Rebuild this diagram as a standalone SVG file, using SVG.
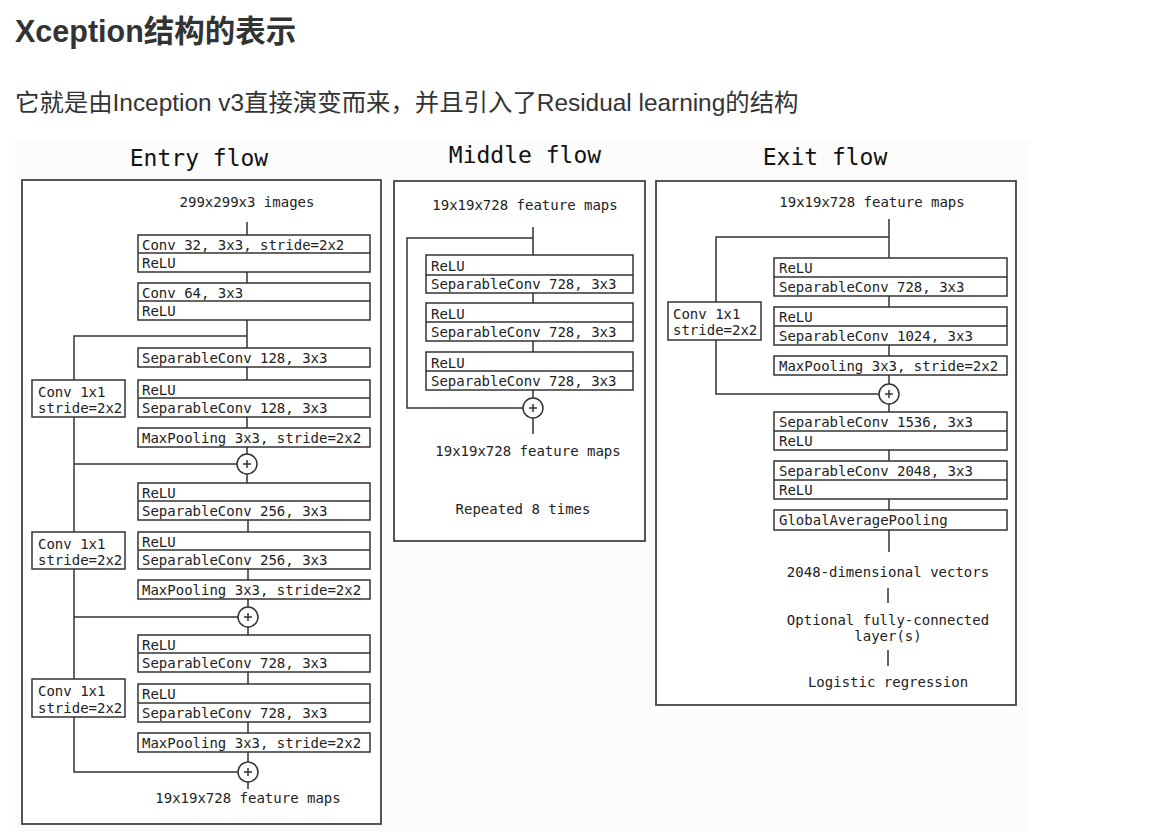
<svg xmlns="http://www.w3.org/2000/svg" width="1166" height="832" viewBox="0 0 1166 832">
<style>
.bg{fill:#fcfcfc}
.p{fill:#fff;stroke:#444;stroke-width:1.8}
.b{fill:#fff;stroke:#333;stroke-width:1.5}
.d{stroke:#333;stroke-width:1.3}
.l{stroke:#333;stroke-width:1.5;fill:none}
.c{fill:#fff;stroke:#333;stroke-width:1.5}
.t{font-family:"DejaVu Sans Mono","Liberation Mono",monospace;font-size:14px;fill:#222}
.m{text-anchor:middle}
.h{font-family:"DejaVu Sans Mono","Liberation Mono",monospace;font-size:23px;fill:#111;text-anchor:middle}
.ti{font-family:"Liberation Sans","Noto Sans CJK SC",sans-serif;font-weight:bold;font-size:30.5px;fill:#333}
.st{font-family:"Liberation Sans","Noto Sans CJK SC",sans-serif;font-size:24.4px;fill:#333}
</style>
<text class="ti" x="15" y="42">Xception结构的表示</text>
<text class="st" x="15" y="111">它就是由Inception v3直接演变而来，并且引入了Residual learning的结构</text>
<rect class="bg" x="15" y="140" width="1015" height="692"/>

<g id="entry-flow">
<text class="h" x="199" y="166">Entry flow</text>
<rect class="p" x="22" y="180" width="359" height="644"/>
</g>
<g id="middle-flow">
<text class="h" x="525" y="163">Middle flow</text>
<rect class="p" x="394" y="181" width="251" height="360"/>
</g>
<g id="exit-flow">
<text class="h" x="825" y="165">Exit flow</text>
<rect class="p" x="656" y="181" width="360" height="524"/>
</g>

<g id="connectors">
<path class="l" d="M247 222V235M247 272V283M247 320V348M247 336H74V380M247 367V380M247 417V428M247 447V454M74 417V532M74 464H237M247 474V483"/>
<path class="l" d="M248 520V532M248 569V580M248 599V607M74 569V679M74 617H238M248 627V635M248 672V684M248 722V733M248 752V762M74 717V772H238M248 782V789"/>
<path class="l" d="M533 227V255M533 238H407V408H523M533 293V303M533 341V352M533 390V398M533 418V434"/>
<path class="l" d="M889 219V258M889 237H716V302M716 340V394H879M889 296V307M889 345V356M889 375V384M889 404V412M889 450V461M889 499V510M889 530V552M888 588V603M888 650V666"/>
</g>

<g id="e-input"><text class="t m" x="247" y="207">299x299x3 images</text></g>
<g id="e-conv32"><rect class="b" x="138" y="235" width="232" height="37"/><line class="d" x1="138" y1="253" x2="370" y2="253"/><text class="t" x="142" y="250">Conv 32, 3x3, stride=2x2</text><text class="t" x="142" y="268">ReLU</text></g>
<g id="e-conv64"><rect class="b" x="138" y="283" width="232" height="37"/><line class="d" x1="138" y1="301" x2="370" y2="301"/><text class="t" x="142" y="298">Conv 64, 3x3</text><text class="t" x="142" y="316">ReLU</text></g>
<g id="e-sep128a"><rect class="b" x="138" y="348" width="232" height="19"/><text class="t" x="142" y="363">SeparableConv 128, 3x3</text></g>
<g id="e-sep128b"><rect class="b" x="138" y="380" width="232" height="37"/><line class="d" x1="138" y1="398" x2="370" y2="398"/><text class="t" x="142" y="395">ReLU</text><text class="t" x="142" y="413">SeparableConv 128, 3x3</text></g>
<g id="e-pool1"><rect class="b" x="138" y="428" width="232" height="19"/><text class="t" x="142" y="443">MaxPooling 3x3, stride=2x2</text></g>
<g id="e-skip1"><rect class="b" x="32" y="380" width="93" height="37"/><text class="t" x="38" y="397">Conv 1x1</text><text class="t" x="38" y="413">stride=2x2</text></g>
<g id="e-add1"><circle class="c" cx="247" cy="464" r="10"/><path class="l" d="M243 464H251M247 460V468"/></g>
<g id="e-sep256a"><rect class="b" x="138" y="483" width="232" height="37"/><line class="d" x1="138" y1="501" x2="370" y2="501"/><text class="t" x="142" y="498">ReLU</text><text class="t" x="142" y="516">SeparableConv 256, 3x3</text></g>
<g id="e-sep256b"><rect class="b" x="138" y="532" width="232" height="37"/><line class="d" x1="138" y1="550" x2="370" y2="550"/><text class="t" x="142" y="547">ReLU</text><text class="t" x="142" y="565">SeparableConv 256, 3x3</text></g>
<g id="e-pool2"><rect class="b" x="138" y="580" width="232" height="19"/><text class="t" x="142" y="595">MaxPooling 3x3, stride=2x2</text></g>
<g id="e-skip2"><rect class="b" x="32" y="532" width="93" height="37"/><text class="t" x="38" y="549">Conv 1x1</text><text class="t" x="38" y="565">stride=2x2</text></g>
<g id="e-add2"><circle class="c" cx="248" cy="617" r="10"/><path class="l" d="M244 617H252M248 613V621"/></g>
<g id="e-sep728a"><rect class="b" x="138" y="635" width="232" height="37"/><line class="d" x1="138" y1="653" x2="370" y2="653"/><text class="t" x="142" y="650">ReLU</text><text class="t" x="142" y="668">SeparableConv 728, 3x3</text></g>
<g id="e-sep728b"><rect class="b" x="138" y="684" width="232" height="38"/><line class="d" x1="138" y1="703" x2="370" y2="703"/><text class="t" x="142" y="699">ReLU</text><text class="t" x="142" y="718">SeparableConv 728, 3x3</text></g>
<g id="e-pool3"><rect class="b" x="138" y="733" width="232" height="19"/><text class="t" x="142" y="748">MaxPooling 3x3, stride=2x2</text></g>
<g id="e-skip3"><rect class="b" x="32" y="679" width="93" height="38"/><text class="t" x="38" y="696">Conv 1x1</text><text class="t" x="38" y="713">stride=2x2</text></g>
<g id="e-add3"><circle class="c" cx="248" cy="772" r="10"/><path class="l" d="M244 772H252M248 768V776"/></g>
<g id="e-output"><text class="t m" x="248" y="803">19x19x728 feature maps</text></g>

<g id="m-input"><text class="t m" x="525" y="210">19x19x728 feature maps</text></g>
<g id="m-sep1"><rect class="b" x="426" y="255" width="207" height="38"/><line class="d" x1="426" y1="275" x2="633" y2="275"/><text class="t" x="431" y="271">ReLU</text><text class="t" x="431" y="289">SeparableConv 728, 3x3</text></g>
<g id="m-sep2"><rect class="b" x="426" y="303" width="207" height="38"/><line class="d" x1="426" y1="322" x2="633" y2="322"/><text class="t" x="431" y="319">ReLU</text><text class="t" x="431" y="337">SeparableConv 728, 3x3</text></g>
<g id="m-sep3"><rect class="b" x="426" y="352" width="207" height="38"/><line class="d" x1="426" y1="371" x2="633" y2="371"/><text class="t" x="431" y="368">ReLU</text><text class="t" x="431" y="386">SeparableConv 728, 3x3</text></g>
<g id="m-add"><circle class="c" cx="533" cy="408" r="10"/><path class="l" d="M529 408H537M533 404V412"/></g>
<g id="m-output"><text class="t m" x="528" y="456">19x19x728 feature maps</text></g>
<g id="m-repeat"><text class="t m" x="523" y="514">Repeated 8 times</text></g>

<g id="x-input"><text class="t m" x="872" y="207">19x19x728 feature maps</text></g>
<g id="x-sep728"><rect class="b" x="774" y="258" width="233" height="38"/><line class="d" x1="774" y1="277" x2="1007" y2="277"/><text class="t" x="779" y="273">ReLU</text><text class="t" x="779" y="292">SeparableConv 728, 3x3</text></g>
<g id="x-sep1024"><rect class="b" x="774" y="307" width="233" height="38"/><line class="d" x1="774" y1="326" x2="1007" y2="326"/><text class="t" x="779" y="322">ReLU</text><text class="t" x="779" y="341">SeparableConv 1024, 3x3</text></g>
<g id="x-pool"><rect class="b" x="774" y="356" width="233" height="19"/><text class="t" x="779" y="371">MaxPooling 3x3, stride=2x2</text></g>
<g id="x-skip"><rect class="b" x="668" y="302" width="93" height="38"/><text class="t" x="673" y="319">Conv 1x1</text><text class="t" x="673" y="335">stride=2x2</text></g>
<g id="x-add"><circle class="c" cx="889" cy="394" r="10"/><path class="l" d="M885 394H893M889 390V398"/></g>
<g id="x-sep1536"><rect class="b" x="774" y="412" width="233" height="38"/><line class="d" x1="774" y1="431" x2="1007" y2="431"/><text class="t" x="779" y="427">SeparableConv 1536, 3x3</text><text class="t" x="779" y="446">ReLU</text></g>
<g id="x-sep2048"><rect class="b" x="774" y="461" width="233" height="38"/><line class="d" x1="774" y1="480" x2="1007" y2="480"/><text class="t" x="779" y="476">SeparableConv 2048, 3x3</text><text class="t" x="779" y="495">ReLU</text></g>
<g id="x-gap"><rect class="b" x="774" y="510" width="233" height="20"/><text class="t" x="779" y="525">GlobalAveragePooling</text></g>
<g id="x-vec"><text class="t m" x="888" y="577">2048-dimensional vectors</text></g>
<g id="x-fc"><text class="t m" x="888" y="625">Optional fully-connected</text><text class="t m" x="888" y="641">layer(s)</text></g>
<g id="x-logit"><text class="t m" x="888" y="687">Logistic regression</text></g>
</svg>
